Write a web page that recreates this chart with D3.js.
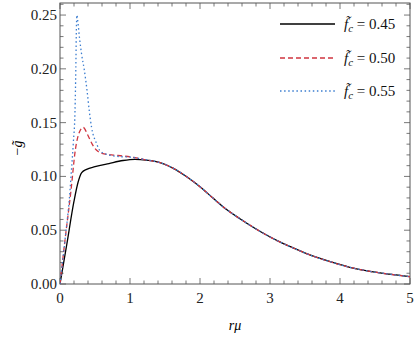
<!DOCTYPE html>
<html>
<head>
<meta charset="utf-8">
<script src="https://cdn.jsdelivr.net/npm/d3@7"></script>
<style>
body { margin: 0; background: #fff; }
svg text { font-family: "Liberation Serif", "DejaVu Serif", serif; }
</style>
</head>
<body>
<div id="vis_container"></div>
<script>
// shared tail, all three curves fall together after r mu ~ 1.2
var tail_x = [1.3, 1.43, 1.62, 1.81, 2.0, 2.19, 2.38, 2.57, 2.76, 2.95, 3.14, 3.29, 3.57, 3.86, 4.14, 4.43, 4.71, 5.0];
var tail_y = [0.1146, 0.1128, 0.1075, 0.0997, 0.0904, 0.0796, 0.0692, 0.0607, 0.0528, 0.0455, 0.0391, 0.0347, 0.027, 0.0207, 0.0155, 0.0117, 0.0091, 0.0068];

var black_x = [0, 0.1, 0.2, 0.26, 0.31, 0.38, 0.5, 0.7, 0.9, 1.07, 1.15];
var black_y = [0, 0.038, 0.077, 0.095, 0.1035, 0.1066, 0.109, 0.112, 0.1148, 0.1159, 0.1157];

var red_x = [0, 0.07, 0.157, 0.22, 0.27, 0.33, 0.40, 0.46, 0.52, 0.6, 0.74, 0.9, 1.07, 1.2];
var red_y = [0, 0.04, 0.087, 0.125, 0.14, 0.1456, 0.138, 0.13, 0.1245, 0.1215, 0.12, 0.119, 0.1175, 0.1157];

var blue_x = [0, 0.07, 0.143, 0.157, 0.19, 0.214, 0.226, 0.235, 0.242, 0.253, 0.28, 0.31, 0.347, 0.386, 0.42, 0.45, 0.52, 0.57, 0.69, 0.88, 1.0, 1.12, 1.2];
var blue_y = [0, 0.04, 0.087, 0.10, 0.131, 0.16, 0.2, 0.24, 0.25, 0.245, 0.228, 0.213, 0.199, 0.18, 0.16, 0.146, 0.131, 0.124, 0.12, 0.1183, 0.118, 0.1168, 0.1158];

var labels = ["0.45", "0.50", "0.55"];
var x_ticks = [0, 1, 2, 3, 4, 5];
var y_ticks = [0.00, 0.05, 0.10, 0.15, 0.20, 0.25];

var width = 415, height = 339;
var pl = 60, pr = 410, pt = 3, pb = 284;

var x = d3.scaleLinear().domain([0, 5]).range([pl, pr]);
var y = d3.scaleLinear().domain([0, 0.2612]).range([pb, pt]);

function pts(xs, ys) {
    var a = xs.map(function(v, i) { return [v, ys[i]]; });
    return a.concat(tail_x.map(function(v, i) { return [v, tail_y[i]]; }));
}

var series = [
    { data: pts(black_x, black_y), color: "#000000", dash: null },
    { data: pts(red_x, red_y), color: "#d0343f", dash: "5,3" },
    { data: pts(blue_x, blue_y), color: "#3b7dd0", dash: "1.5,2.6" }
];

var svg = d3.select("#vis_container").append("svg")
    .attr("width", width)
    .attr("height", height);

// ticks (inward, Mathematica-style frame)
var frame = "#555";
var minor_x = d3.range(0, 5.001, 0.2);
var minor_y = d3.range(0, 0.2601, 0.01);

var tk = svg.append("g").attr("stroke", frame).attr("stroke-width", 0.8);
minor_x.forEach(function(v) {
    var major = Math.abs(v - Math.round(v)) < 1e-6;
    var l = major ? 6 : 3.5;
    tk.append("line").attr("x1", x(v)).attr("x2", x(v)).attr("y1", pb).attr("y2", pb - l);
    tk.append("line").attr("x1", x(v)).attr("x2", x(v)).attr("y1", pt).attr("y2", pt + l);
});
minor_y.forEach(function(v) {
    var major = Math.abs(v * 20 - Math.round(v * 20)) < 1e-6;
    var l = major ? 6 : 3.5;
    tk.append("line").attr("x1", pl).attr("x2", pl + l).attr("y1", y(v)).attr("y2", y(v));
    tk.append("line").attr("x1", pr).attr("x2", pr - l).attr("y1", y(v)).attr("y2", y(v));
});

svg.append("rect")
    .attr("x", pl).attr("y", pt)
    .attr("width", pr - pl).attr("height", pb - pt)
    .attr("fill", "none").attr("stroke", frame).attr("stroke-width", 1);

svg.selectAll(".xt").data(x_ticks).enter().append("text")
    .attr("x", function(d) { return x(d); })
    .attr("y", pb + 19)
    .attr("text-anchor", "middle")
    .attr("font-size", 15)
    .attr("fill", "#222")
    .text(function(d) { return d; });

svg.selectAll(".yt").data(y_ticks).enter().append("text")
    .attr("x", pl - 3)
    .attr("y", function(d) { return y(d) + 5; })
    .attr("text-anchor", "end")
    .attr("font-size", 15)
    .attr("fill", "#222")
    .text(function(d) { return d.toFixed(2); });

// curves
var line = d3.line()
    .x(function(d) { return x(d[0]); })
    .y(function(d) { return y(d[1]); })
    .curve(d3.curveMonotoneX);

svg.append("defs").append("clipPath").attr("id", "clip")
    .append("rect").attr("x", pl).attr("y", pt).attr("width", pr - pl).attr("height", pb - pt);

var g = svg.append("g").attr("clip-path", "url(#clip)");
series.forEach(function(s) {
    g.append("path")
        .attr("d", line(s.data))
        .attr("fill", "none")
        .attr("stroke", s.color)
        .attr("stroke-width", 1.3)
        .attr("stroke-dasharray", s.dash);
});

// legend
var leg_y = [24, 58, 91];
series.forEach(function(s, i) {
    svg.append("line")
        .attr("x1", 280).attr("x2", 335)
        .attr("y1", leg_y[i]).attr("y2", leg_y[i])
        .attr("stroke", s.color).attr("stroke-width", 1.3)
        .attr("stroke-dasharray", s.dash);
    var t = svg.append("text")
        .attr("x", 344).attr("y", leg_y[i] + 5)
        .attr("font-size", 15)
        .attr("fill", "#111");
    t.append("tspan").attr("font-style", "italic").text("f\u0303");
    t.append("tspan").attr("font-style", "italic").attr("font-size", 11).attr("dy", 3).text("c");
    t.append("tspan").attr("dy", -3).text(" = " + labels[i]);
});

// axis labels
svg.append("text")
    .attr("x", 235).attr("y", 330)
    .attr("text-anchor", "middle")
    .attr("font-size", 14)
    .attr("font-style", "italic")
    .text("r\u03bc");

svg.append("text")
    .attr("transform", "translate(22,148) rotate(-90)")
    .attr("text-anchor", "middle")
    .attr("font-size", 14)
    .html("\u2212<tspan font-style='italic'>g\u0303</tspan>");
</script>
</body>
</html>
